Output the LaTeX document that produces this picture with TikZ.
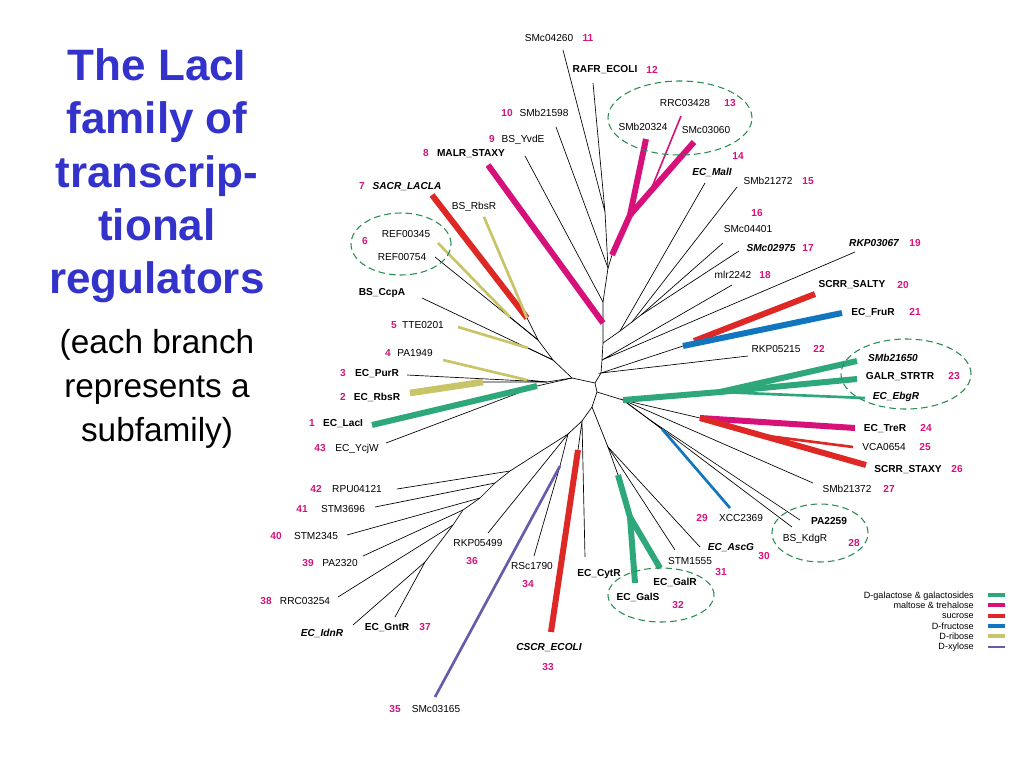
\documentclass[tikz,border=0pt]{standalone}
\usepackage{fontspec}
\setmainfont{Liberation Sans}

\definecolor{galc}{RGB}{46,168,122}
\definecolor{malc}{RGB}{214,18,122}
\definecolor{succ}{RGB}{222,40,38}
\definecolor{fruc}{RGB}{18,118,190}
\definecolor{ribc}{RGB}{200,196,104}
\definecolor{xylc}{RGB}{104,92,170}
\definecolor{titc}{RGB}{51,51,204}
\definecolor{numc}{RGB}{214,18,122}
\definecolor{ringc}{RGB}{40,140,80}

\tikzset{
  br/.style={line width=0.5pt, black},
  fat/.style={line width=4.5pt},
  mid/.style={line width=2pt},
  ring/.style={draw=ringc, line width=0.8pt, dash pattern=on 5pt off 3pt},
  lbl/.style={font=\fontsize{7.6}{9}\selectfont, inner sep=0pt, text height=5.4pt, text depth=0pt},
  blbl/.style={lbl, font=\fontsize{7.6}{9}\selectfont\bfseries},
  ilbl/.style={lbl, font=\fontsize{7.6}{9}\selectfont\bfseries\itshape},
  num/.style={lbl, font=\fontsize{7.6}{9}\selectfont\bfseries, text=numc},
  leg/.style={font=\fontsize{6.8}{8}\selectfont, inner sep=0pt, text height=4.9pt, text depth=0pt},
}

\begin{document}
\begin{tikzpicture}[x=0.75pt,y=-0.75pt]
  \useasboundingbox (0,0) rectangle (1024,768);

  % title
  \node[font=\fontsize{33}{40}\selectfont\bfseries, text=titc, align=center] (title) at (157,176)
    {The LacI\\family of\\transcrip-\\tional\\regulators};
  \node[font=\fontsize{25}{33}\selectfont, align=center] (sub) at (157,389)
    {(each branch\\represents a\\subfamily)};

  % leaf tips
  \foreach \n/\x/\y in {t11/563/50, t12/593/83, t10/556/127, t9/525/156, t8/488/165,
      t7/432/195, tRbs/484/217, t6a/438/243, t6b/435/257, tCcp/422/298, t5/458/327,
      t4/443/360, t3/407/375, t2/410/393, t1/372/425, t43/386/443, t42/397/489,
      t41/375/507, t40/347/535, t39/363/556, t38/338/597, tIdn/353/625, t37/395/617,
      t36/488/533, t35/435/697, t34/534/556, t33/551/632, tCyt/585/557, tGalS/635/583,
      tGalR/660/568, t31/675/550, t30/700/547, t29/730/508, tPA/800/520, t28/792/527,
      t27/813/483, t26/866/465, t25/853/447, t24/855/428, tEbg/865/398, tGal/857/379,
      t23/857/361, t22/748/356, t21/842/313, t20/815/294, t19/855/252, t18/732/285,
      t17/739/251, t16/723/243, t15/737/187, tMal/705/183, t13/681/116, tSMb/646/139,
      t14/694/142}
    \coordinate (\n) at (\x,\y);

  % inner nodes
  \foreach \n/\x/\y in {na/605/212, nb/608/268, nc/603/302, nd/603/323, T1/603/343,
      T2/602/360, T3/601/373, C1/595/383, C2/597/392, M1/592/407, L1/582/421,
      u1/620/331, u2/632/322, u3/641/315, J1/572/378, G1/537/386, J2/547/382,
      J3/553/360, J5/538/340, J6/527/318, j0/623/400, j23/720/392, pr0/700/418,
      vb/760/435, xb/662/429, k1/650/420, R1/608/447, gg0/618/475, gg1/630/517,
      cs0/578/450, L2/568/434, f1/510/471, f2/495/483, f3/480/498, f4/463/510,
      f5/453/525, f6/425/562, P/560/466, pk0/612/255, pk1/630/215, pk2/650/192,
      rb0/483/382, pa0/527/380, tt0/528/348, rf0/510/317, fr0/683/346, sr0/694/341}
    \coordinate (\n) at (\x,\y);

  % thin branches
  \draw[br] (t11) -- (na) -- (t12);
  \draw[br] (na) -- (nb) -- (nc) -- (nd) -- (T1) -- (T2) -- (T3) -- (C1) -- (C2) -- (M1) -- (L1);
  \draw[br] (t10) -- (nb) -- (pk0);
  \draw[br] (t9) -- (nc);
  \draw[br] (T1) -- (u1) -- (tMal);
  \draw[br] (u1) -- (u2) -- (t15);
  \draw[br] (u2) -- (u3) -- (t16);
  \draw[br] (u3) -- (t17);
  \draw[br] (t18) -- (T2) -- (t19);
  \draw[br] (t22) -- (T3) -- (fr0);
  \draw[br] (C1) -- (J1) -- (G1) -- (t43);
  \draw[br] (J1) -- (J2) -- (t3);
  \draw[br] (rb0) -- (J2) -- (pa0);
  \draw[br] (J1) -- (J3) -- (tCcp);
  \draw[br] (tt0) -- (J3) -- (J5) -- (t6b);
  \draw[br] (rf0) -- (J5) -- (J6);
  \draw[br] (C2) -- (j0) -- (pr0);
  \draw[br] (t27) -- (j0) -- (xb);
  \draw[br] (j0) -- (k1) -- (tPA);
  \draw[br] (k1) -- (t28);
  \draw[br] (M1) -- (R1) -- (t31);
  \draw[br] (t30) -- (R1) -- (gg0);
  \draw[br] (cs0) -- (L1) -- (tCyt);
  \draw[br] (L1) -- (L2) -- (f1) -- (f2) -- (f3) -- (f4) -- (f5) -- (f6) -- (tIdn);
  \draw[br] (f6) -- (t37);
  \draw[br] (f1) -- (t42);
  \draw[br] (f2) -- (t41);
  \draw[br] (f3) -- (t40);
  \draw[br] (f4) -- (t39);
  \draw[br] (f5) -- (t38);
  \draw[br] (t36) -- (L2) -- (P) -- (t34);

  % coloured branches
  \draw[fat, malc] (nd) -- (t8);
  \draw[fat, malc] (pk0) -- (pk1) -- (tSMb);
  \draw[fat, malc] (pk1) -- (pk2) -- (t14);
  \draw[line width=1.2pt, malc] (pk2) -- (t13);
  \draw[fat, malc] (pr0) -- (t24);
  \draw[fat, succ] (J6) -- (t7);
  \draw[fat, succ] (sr0) -- (t20);
  \draw[fat, succ] (pr0) -- (t26);
  \draw[mid, succ] (vb) -- (t25);
  \draw[fat, succ] (cs0) -- (t33);
  \draw[fat, fruc] (fr0) -- (t21);
  \draw[mid, fruc] (xb) -- (t29);
  \draw[fat, galc] (G1) -- (t1);
  \draw[fat, galc] (j0) -- (j23) -- (t23);
  \draw[fat, galc] (j23) -- (tGal);
  \draw[mid, galc] (j23) -- (tEbg);
  \draw[fat, galc] (gg0) -- (gg1) -- (tGalS);
  \draw[fat, galc] (gg1) -- (tGalR);
  \draw[line width=5pt, ribc] (rb0) -- (t2);
  \draw[mid, ribc] (pa0) -- (t4);
  \draw[mid, ribc] (tt0) -- (t5);
  \draw[mid, ribc] (rf0) -- (t6a);
  \draw[mid, ribc] (J6) -- (tRbs);
  \draw[mid, xylc] (P) -- (t35);

  % dashed rings
  \draw[ring] (680,118) ellipse [x radius=54pt, y radius=27.75pt];
  \draw[ring] (401,244) ellipse [x radius=37.5pt, y radius=23.25pt];
  \draw[ring] (906,374) ellipse [x radius=48.75pt, y radius=26.25pt];
  \draw[ring] (820,533) ellipse [x radius=36pt, y radius=21.75pt];
  \draw[ring] (661,595) ellipse [x radius=39.75pt, y radius=20.25pt];

  % labels
  \foreach \x/\y/\s/\t [count=\i] in {549/38/lbl/SMc04260, 588/38/num/11,
      605/69/blbl/RAFR\_ECOLI, 652/70/num/12, 507/113/num/10, 544/113/lbl/SMb21598,
      492/139/num/9, 523/139/lbl/BS\_YvdE, 426/153/num/8, 471/153/blbl/MALR\_STAXY,
      362/186/num/7, 407/186/ilbl/SACR\_LACLA, 474/206/lbl/BS\_RbsR,
      685/103/lbl/RRC03428, 730/103/num/13, 643/127/lbl/SMb20324, 706/130/lbl/SMc03060,
      738/156/num/14, 712/172/ilbl/EC\_MalI, 768/181/lbl/SMb21272, 808/181/num/15,
      757/213/num/16, 748/229/lbl/SMc04401, 771/248/ilbl/SMc02975, 808/248/num/17,
      874/243/ilbl/RKP03067, 915/243/num/19, 733/275/lbl/mlr2242, 765/275/num/18,
      852/284/blbl/SCRR\_SALTY, 903/285/num/20, 873/312/blbl/EC\_FruR, 915/312/num/21,
      776/349/lbl/RKP05215, 819/349/num/22, 893/358/ilbl/SMb21650,
      900/376/blbl/GALR\_STRTR, 954/376/num/23, 896/396/ilbl/EC\_EbgR,
      885/428/blbl/EC\_TreR, 926/428/num/24, 884/447/lbl/VCA0654, 925/447/num/25,
      908/469/blbl/SCRR\_STAXY, 957/469/num/26, 847/489/lbl/SMb21372, 889/489/num/27,
      702/518/num/29, 741/518/lbl/XCC2369, 829/521/blbl/PA2259, 805/538/lbl/BS\_KdgR,
      854/543/num/28, 731/547/ilbl/EC\_AscG, 764/556/num/30, 690/561/lbl/STM1555,
      721/572/num/31, 599/573/blbl/EC\_CytR, 675/582/blbl/EC\_GalR, 638/597/blbl/EC\_GalS,
      678/605/num/32, 549/647/ilbl/CSCR\_ECOLI, 548/667/num/33, 532/566/lbl/RSc1790,
      528/584/num/34, 478/543/lbl/RKP05499, 472/561/num/36, 395/709/num/35,
      436/709/lbl/SMc03165, 387/627/blbl/EC\_GntR, 425/627/num/37, 322/633/ilbl/EC\_IdnR,
      266/601/num/38, 305/601/lbl/RRC03254, 308/563/num/39, 340/563/lbl/PA2320,
      276/536/num/40, 316/536/lbl/STM2345, 302/509/num/41, 343/509/lbl/STM3696,
      316/489/num/42, 357/489/lbl/RPU04121, 320/448/num/43, 357/448/lbl/EC\_YcjW,
      312/423/num/1, 343/423/blbl/EC\_LacI, 343/397/num/2, 377/397/blbl/EC\_RbsR,
      343/373/num/3, 377/373/blbl/EC\_PurR, 388/353/num/4, 415/353/lbl/PA1949,
      394/325/num/5, 423/325/lbl/TTE0201, 382/292/blbl/BS\_CcpA, 365/241/num/6,
      406/234/lbl/REF00345, 402/257/lbl/REF00754}
    \node[\s] (lab\i) at (\x,\y) {\t};

  % legend
  \foreach \c/\w/\t [count=\i] in {galc/3/D-galactose \& galactosides, malc/3/maltose \& trehalose,
      succ/3/sucrose, fruc/3/D-fructose, ribc/3/D-ribose, xylc/1.5/D-xylose} {
    \node[leg, anchor=east] (leg\i) at (974,{595+10.3*(\i-1)}) {\t};
    \draw[line width=\w pt, \c] (988,{595+10.3*(\i-1)}) -- (1005,{595+10.3*(\i-1)});
  }
\end{tikzpicture}
\end{document}
